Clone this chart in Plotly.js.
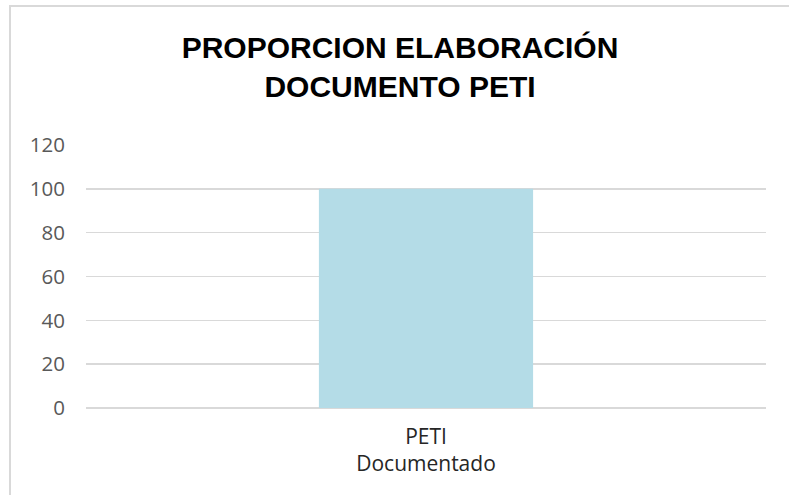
<!DOCTYPE html>
<html>
<head>
<meta charset="utf-8">
<script src="https://cdn.plot.ly/plotly-3.0.1.min.js"></script>
<style>
html,body{margin:0;padding:0;background:#fff;overflow:hidden;}
#wrap{position:relative;width:789px;height:495px;}
#chart{position:absolute;left:0;top:0;width:789px;height:495px;}
#frame{position:absolute;left:9px;top:5px;width:800px;height:500px;border:2px solid #d9d9d9;pointer-events:none;box-sizing:border-box;}
</style>
</head>
<body>
<div id="wrap"><div id="chart"></div><div id="frame"></div></div>
<script>
const categories = ["PETI<br>Documentado"];
const values = [100];
const yTicks = [0, 20, 40, 60, 80, 100, 120];
const titleText = "PROPORCION ELABORACIÓN<br>DOCUMENTO PETI";

Plotly.newPlot('chart', [{
  type: 'bar',
  x: categories,
  y: values,
  marker: {color: '#B4DCE7'},
  hoverinfo: 'none'
}], {
  width: 789, height: 495,
  margin: {l: 86, r: 23, t: 145, b: 87},
  paper_bgcolor: 'rgba(0,0,0,0)',
  plot_bgcolor: '#fff',
  bargap: 0.685,
  showlegend: false,
  title: {
    text: titleText,
    font: {family: '"Liberation Sans", Arial, sans-serif', size: 30, color: '#000', weight: 'bold'},
    x: 0.507, xref: 'container', xanchor: 'center',
    y: 0.882, yref: 'container', yanchor: 'middle'
  },
  xaxis: {
    showgrid: false, zeroline: false, showline: false, ticks: '',
    tickfont: {family: '"Open Sans", sans-serif', size: 21, color: '#262626'},
    ticklabelstandoff: 14,
    fixedrange: true
  },
  yaxis: {
    range: [0, 120], tickvals: yTicks, ticktext: yTicks.map(String),
    showgrid: true, gridcolor: '#d9d9d9', gridwidth: 1.5,
    zeroline: true, zerolinecolor: '#d9d9d9', zerolinewidth: 1.5,
    showline: false, ticks: '',
    tickfont: {family: '"Open Sans", sans-serif', size: 20.5, color: '#595959'},
    ticklabelstandoff: 20,
    fixedrange: true
  }
}, {staticPlot: true, displayModeBar: false});
</script>
</body>
</html>
